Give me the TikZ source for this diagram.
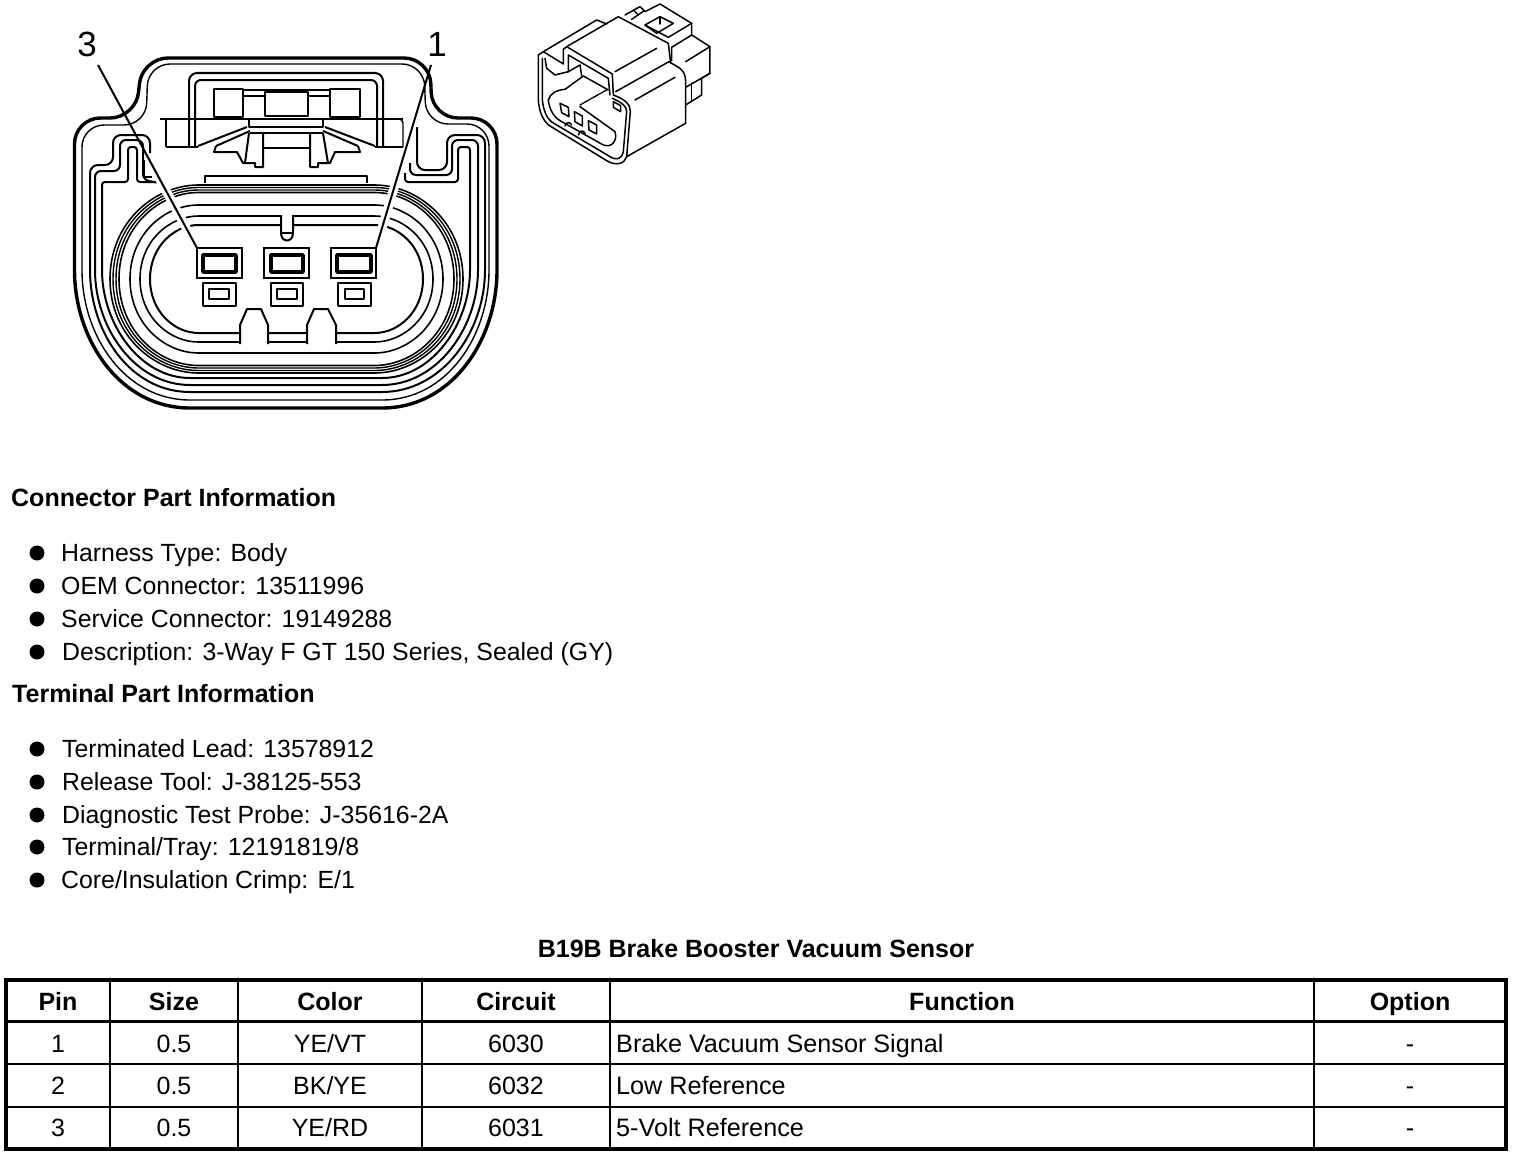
\documentclass[tikz,border=0pt]{standalone}
\usepackage{fontspec}
\setmainfont{Liberation Sans}
\usetikzlibrary{calc}

\tikzset{
  heavyline/.style={line width=3.4pt, line join=round},
  midline/.style={line width=2pt, line join=round},
  fineline/.style={line width=1.4pt, line join=round},
  isoline/.style={line width=1.5pt, line join=round, line cap=round},
  gridline/.style={line width=1.6pt},
  bodytext/.style={inner sep=0pt, anchor=base west, font=\fontsize{24.85}{28}\selectfont},
  headtext/.style={inner sep=0pt, anchor=base west, font=\fontsize{25}{28}\selectfont\bfseries},
  celltext/.style={inner sep=0pt, anchor=base, font=\fontsize{25}{28}\selectfont},
  functext/.style={inner sep=0pt, anchor=base west, font=\fontsize{25.2}{28}\selectfont},
  colhead/.style={inner sep=0pt, anchor=base, font=\fontsize{25}{28}\selectfont\bfseries},
  pinlabel/.style={inner sep=0pt, font=\fontsize{35}{38}\selectfont},
  bulletdot/.style={circle, fill=black, inner sep=0pt, minimum size=15pt},
  pinbox/.style={draw, line width=2.4pt, fill=white, inner sep=0pt, outer sep=0pt},
}

\begin{document}
\begin{tikzpicture}[x=1pt, y=-1pt]
  \useasboundingbox (0,0) rectangle (1520,1156);

  % housing outlines
  \draw[heavyline, rounded corners=26pt] (74.5,210) -- (74.5,118) -- (136,118) -- (142,58) -- (430,58) -- (432,118) -- (497,118) -- (497,210);
  \draw[heavyline] (74.5,210) -- (74.5,270) .. controls (74.5,340) and (120,408) .. (190,408) -- (382,408) .. controls (452,408) and (497,340) .. (497,270) -- (497,210);

  \draw[fineline, rounded corners=22pt] (82,210) -- (82,125) -- (146,125) -- (148,64) -- (424,64) -- (426,124) -- (489,124) -- (489,210);
  \draw[fineline] (82,210) -- (82,270) .. controls (82,336) and (125,400) .. (190,400) -- (382,400) .. controls (447,400) and (489,336) .. (489,270) -- (489,210);

  \draw[midline, rounded corners=8pt] (90,270) -- (90,165) -- (113,165) -- (113,135) -- (150,135) -- (150,153);
  \draw[midline] (90,270) .. controls (90,332) and (130,392) .. (190,392) -- (382,392) .. controls (442,392) and (485,332) .. (485,270);
  \draw[midline, rounded corners=6pt] (95,270) -- (95,171) -- (120,171) -- (120,140) -- (143,140) -- (143,180) -- (160,183);
  \draw[midline] (95,270) .. controls (95,328) and (135,385) .. (190,385) -- (382,385) .. controls (437,385) and (478,328) .. (478,270);
  \draw[midline, rounded corners=3pt] (102,270) -- (102,182) -- (128,182) -- (128,147) -- (137,147) -- (137,182) -- (165,182);
  \draw[midline] (102,270) .. controls (102,324) and (140,378) .. (190,378) -- (382,378) .. controls (432,378) and (470,324) .. (470,270);
  \draw[fineline] (144,160) -- (144,177) -- (152,177);

  \draw[midline, rounded corners=8pt] (417,127) -- (417,170) -- (447,170) -- (447,135) -- (485,135) -- (485,270);
  \draw[midline, rounded corners=6pt] (410,163) -- (410,175) -- (452,175) -- (452,140) -- (478,140) -- (478,270);
  \draw[midline, rounded corners=3pt] (405,173) -- (405,182) -- (458,182) -- (458,147) -- (470,147) -- (470,270);

  % latch pocket
  \draw[midline, rounded corners=8pt] (189,147) -- (189,73) -- (383,73) -- (383,147);
  \draw[midline, rounded corners=6pt] (195,147) -- (195,80) -- (377,80) -- (377,147);
  \draw[fineline] (160,119) -- (403,119);
  \draw[fineline] (166,147) -- (198,147) (375,147) -- (403,147);
  \draw[midline] (166,119) -- (166,147);
  \draw[fineline, rounded corners=4pt] (396,119) -- (403,119) -- (403,147);

  \draw[midline] (214,89) rectangle (243,117);
  \draw[midline] (265,92) rectangle (308,116);
  \draw[midline] (330,89) rectangle (360,117);
  \draw[midline] (243,90) -- (330,90) (243,96) -- (265,96) (308,96) -- (330,96);

  \draw[midline] (249,119) -- (249,127) -- (323,127) -- (323,119);
  \draw[midline] (250,133) -- (323,133) (263,148) -- (310,148);
  \draw[midline] (247,127) -- (198,146) (250,131) -- (216,146);
  \draw[midline] (325,127) -- (375,146) (323,131) -- (358,146);
  \draw[midline] (216,146) -- (214,152) -- (237,152) -- (243,163) -- (255,163) -- (255,167) -- (263,167) -- (263,133);
  \draw[midline] (358,146) -- (360,152) -- (335,152) -- (330,163) -- (318,163) -- (318,167) -- (310,167) -- (310,133);
  \draw[midline] (249,133) -- (245,163) (323,133) -- (328,163);
  \draw[midline] (205,183) -- (205,176) -- (367,176) -- (367,183);

  % seal rings
  \foreach \hx/\hy/\wd in {176.5/94/1.6, 173.5/91.5/1.4, 170.5/89/1.4, 167.5/86.5/1.6, 156.5/74/1.6, 146.5/63/1.6, 136.5/54/2} {
    \draw[line width=\wd pt]
      (286.5-\hx,279) .. controls (286.5-\hx,279-0.6*\hy) and (198.5-0.5*\hx+44,279-\hy) .. (198.5,279-\hy)
      -- (374.5,279-\hy) .. controls (330.5+0.5*\hx,279-\hy) and (286.5+\hx,279-0.6*\hy) .. (286.5+\hx,279)
      .. controls (286.5+\hx,279+0.6*\hy) and (330.5+0.5*\hx,279+\hy) .. (374.5,279+\hy)
      -- (198.5,279+\hy) .. controls (198.5-0.5*\hx+44,279+\hy) and (286.5-\hx,279+0.6*\hy) .. (286.5-\hx,279) -- cycle;
  }

  % keyway
  \fill[white] (281,213) rectangle (293,241);
  \draw[midline] (281,215) -- (281,233) .. controls (281,243) and (293,243) .. (293,233) -- (293,215);
  \draw[fineline] (281,233) -- (293,233);

  % polarising pegs
  \draw[midline, fill=white] (240,344) -- (240,325) -- (247,309) -- (261,309) -- (268,325) -- (268,344);
  \draw[midline, fill=white] (307,344) -- (307,325) -- (314,309) -- (328,309) -- (336,325) -- (336,344);

  % cavities
  \coordinate (lead3) at (98,65);
  \coordinate (lead1) at (431,65);
  \node[pinbox, minimum width=45pt, minimum height=30pt] (pin3) at (219.5,263) {};
  \node[pinbox, minimum width=45pt, minimum height=30pt] (pin2) at (286.5,263) {};
  \node[pinbox, minimum width=45pt, minimum height=30pt] (pin1) at (353.5,263) {};

  \draw[white, line width=9pt] ($(lead3)!0.62!(pin3.north west)$) -- (pin3.north west);
  \draw[white, line width=9pt] ($(lead1)!0.62!(pin1.north east)$) -- (pin1.north east);
  \draw[midline] (lead3) -- (pin3.north west);
  \draw[midline] (lead1) -- (pin1.north east);

  \node[pinbox, minimum width=45pt, minimum height=30pt] at (219.5,263) {};
  \node[pinbox, minimum width=45pt, minimum height=30pt] at (353.5,263) {};
  \draw[heavyline] (203,255) rectangle (236,272);
  \draw[heavyline] (271,255) rectangle (303,272);
  \draw[heavyline] (337,255) rectangle (371,272);

  \draw[midline] (203,283) rectangle (236,306);
  \draw[midline] (271,283) rectangle (303,306);
  \draw[midline] (338,283) rectangle (371,306);
  \draw[midline] (209,289) rectangle (229,299);
  \draw[midline] (277,289) rectangle (297,299);
  \draw[midline] (345,289) rectangle (364,299);

  \node[pinlabel] (lbl3) at (87,44) {3};
  \node[pinlabel] (lbl1) at (437,44) {1};

  % small view
  \begin{scope}[shift={(525,0)}, x=0.3333pt, y=-0.3333pt]
    \draw[isoline] (40,165) -- (40,300) .. controls (42,335) and (55,365) .. (75,378) -- (245,482) .. controls (275,500) and (300,490) .. (305,470) -- (316,335) .. controls (316,315) and (305,300) .. (265,285) -- (262,222) -- (125,140) -- (115,148) -- (115,192) -- (55,155) -- (40,165);
    \draw[isoline] (52,175) -- (52,300) .. controls (55,330) and (65,355) .. (80,366) -- (255,470) .. controls (275,482) and (290,478) .. (295,455) -- (305,335) .. controls (305,320) and (295,310) .. (262,295);
    \draw[isoline] (55,155) -- (215,60) -- (245,72);
    \draw[isoline] (125,140) -- (280,50) -- (430,130) -- (437,190);
    \draw[isoline] (130,215) -- (130,165) -- (250,235) -- (255,285);
    \draw[isoline] (130,215) -- (165,195) -- (170,228);
    \draw[isoline] (60,175) -- (65,205) -- (90,225) -- (130,215);
    \draw[isoline] (270,215) -- (395,145);
    \draw[isoline] (272,275) -- (432,185) -- (465,205) .. controls (478,215) and (482,230) .. (482,245) -- (482,370) -- (305,470);
    \draw[isoline] (330,300) -- (450,232);
    \draw[isoline] (300,45) -- (345,20) -- (358,32) -- (320,58);
    \draw[isoline] (325,30) -- (340,45);
    \draw[isoline] (360,35) -- (405,12) -- (500,70) -- (500,105) -- (555,140) -- (555,220) -- (530,235) -- (530,285) -- (482,315);
    \draw[isoline] (500,70) -- (430,112) -- (360,75);
    \draw[isoline] (500,105) -- (440,142) -- (440,182);
    \draw[isoline] (555,140) -- (482,185);
    \draw[isoline] (555,220) -- (482,262);
    \draw[isoline] (500,250) -- (500,305);
    \draw[isoline] (360,75) -- (405,50) -- (445,70) -- (395,100) -- (360,75);
    \draw[isoline] (405,50) -- (405,72);
    \draw[isoline] (70,300) .. controls (75,280) and (95,270) .. (120,268) -- (175,228) -- (250,270);
    \draw[isoline] (70,300) .. controls (72,325) and (85,350) .. (105,362) -- (235,435) .. controls (262,445) and (278,420) .. (270,395) -- (165,320);
    \draw[isoline, densely dotted] (165,315) -- (248,268);
    \draw[isoline] (105,310) -- (130,322) -- (132,350) -- (110,338) -- cycle;
    \draw[isoline] (148,335) -- (172,348) -- (172,378) -- (150,365) -- cycle;
    \draw[isoline] (190,362) -- (215,375) -- (215,402) -- (192,390) -- cycle;
    \draw[isoline] (265,305) -- (287,317) -- (287,335) -- (265,322) -- cycle;
    \draw[isoline] (120,378) .. controls (125,365) and (135,365) .. (140,375);
    \draw[isoline] (160,405) .. controls (165,390) and (175,390) .. (180,400);
  \end{scope}

  % part information
  \node[headtext] (connhead) at (11,506) {Connector Part Information};
  \node[headtext] (termhead) at (12,702) {Terminal Part Information};
  \foreach \rowy/\rowx/\itemlabel in {
    553/61/{Harness Type: Body},
    586/61/{OEM Connector: 13511996},
    619/61/{Service Connector: 19149288},
    652/62/{Description: 3-Way F GT 150 Series, Sealed (GY)},
    749/62/{Terminated Lead: 13578912},
    782/62/{Release Tool: J-38125-553},
    815/62/{Diagnostic Test Probe: J-35616-2A},
    847/62/{Terminal/Tray: 12191819/8},
    880/61/{Core/Insulation Crimp: E/1}} {
    \node[bulletdot] (dot\rowy) at (37,\rowy) {};
    \node[bodytext] (item\rowy) at (\rowx,\rowy+8) {\itemlabel};
  }

  % table
  \node[colhead] (tabletitle) at (756,957) {B19B Brake Booster Vacuum Sensor};
  \draw[line width=3.4pt] (6,980) rectangle (1506,1149);
  \draw[line width=3pt] (6,1021.5) -- (1506,1021.5);
  \draw[gridline] (6,1064) -- (1506,1064);
  \draw[line width=2.2pt] (6,1107) -- (1506,1107);
  \foreach \colx in {110,238,422,610,1314} {
    \draw[gridline] (\colx,980) -- (\colx,1149);
  }
  \foreach \colx/\coltext in {58/Pin, 174/Size, 330/Color, 516/Circuit, 962/Function, 1410/Option} {
    \node[colhead] (head\coltext) at (\colx,1010) {\coltext};
  }
  \foreach \rowy/\pinno/\wirecolor/\circuitno/\funcname in {
    1052/1/YE\slash VT/6030/Brake Vacuum Sensor Signal,
    1094/2/BK\slash YE/6032/Low Reference,
    1136/3/YE\slash RD/6031/5-Volt Reference} {
    \node[celltext] (pinno\pinno) at (58,\rowy) {\pinno};
    \node[celltext] (size\pinno) at (174,\rowy) {0.5};
    \node[celltext] (color\pinno) at (330,\rowy) {\wirecolor};
    \node[celltext] (circ\pinno) at (516,\rowy) {\circuitno};
    \node[functext] (func\pinno) at (616,\rowy) {\funcname};
    \node[celltext] (opt\pinno) at (1410,\rowy) {-};
  }
\end{tikzpicture}
\end{document}
